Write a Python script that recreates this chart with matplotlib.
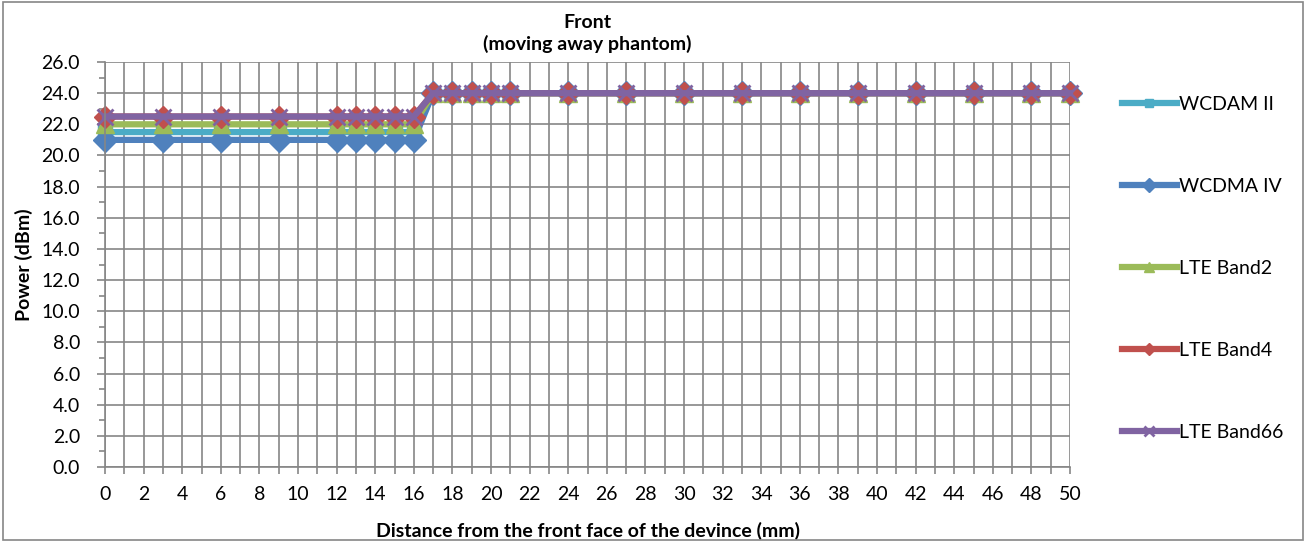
import matplotlib
matplotlib.use("Agg")
import matplotlib.pyplot as plt
from matplotlib.patches import Rectangle

plt.rcParams['font.family'] = ['Lato', 'DejaVu Sans']

# distances (mm)
dist = [0, 3, 6, 9, 12, 13, 14, 15, 16, 17, 18, 19, 20, 21, 24, 27, 30, 33, 36, 39, 42, 45, 48, 50]
n_low = 9  # points before the step (0..16)
n_high = len(dist) - n_low

wcdam2 = [21.5] * n_low + [24.0] * n_high
wcdma4 = [21.0] * n_low + [24.0] * n_high
lte_b2 = [22.0] * n_low + [24.0] * n_high
lte_b4 = [22.5] * n_low + [24.0] * n_high
lte_b66 = [22.5] * n_low + [24.0] * n_high

series = [
    ("WCDAM II", wcdam2, "#4BACC6", "s", 10),
    ("WCDMA IV", wcdma4, "#4F81BD", "D", 12),
    ("LTE Band2", lte_b2, "#9BBB59", "^", 13),
    ("LTE Band4", lte_b4, "#C0504D", "D", 11),
    ("LTE Band66", lte_b66, "#8064A2", "x", 11),
]

FS = 14

fig = plt.figure(figsize=(13.06, 5.42), dpi=100)
ax = fig.add_axes([105/1306, 1 - 467/542, 965/1306, 405/542])

handles = []
for name, vals, col, mk, ms in series:
    h, = ax.plot(dist, vals, color=col, lw=4.5, marker=mk, ms=ms,
                 markeredgewidth=2 if mk == 'x' else 1, mec=col, mfc=col,
                 label=name, solid_joinstyle='round', clip_on=False)
    handles.append(h)

ax.set_xlim(0, 50)
ax.set_ylim(0, 26)
ax.set_xticks(range(0, 51, 2))
ax.set_xticks(range(0, 51, 1), minor=True)
ax.set_yticks([i * 2 for i in range(14)])
ax.set_yticklabels([f"{i*2:.1f}" for i in range(14)])
ax.set_yticks(range(1, 26, 2), minor=True)

ax.grid(True, which='major', axis='y', color='#868686', lw=1.2)
ax.grid(True, which='minor', axis='x', color='#868686', lw=1.2)
ax.grid(True, which='major', axis='x', color='#868686', lw=1.2)
ax.set_axisbelow(True)

for s in ['top', 'right']:
    ax.spines[s].set_visible(False)
for s in ['left', 'bottom']:
    ax.spines[s].set_color('#868686')
    ax.spines[s].set_linewidth(1.2)

ax.tick_params(axis='both', which='both', color='#868686', width=1.2, labelsize=FS, labelcolor='black')
ax.tick_params(axis='y', which='major', length=6, direction='out', pad=12)
ax.tick_params(axis='y', which='minor', length=4, direction='out')
ax.tick_params(axis='x', which='both', length=5, direction='out', pad=9)

ax.set_xlabel("Distance from the front face of the devince (mm)", fontsize=FS, fontweight='bold', labelpad=13)
ax.set_ylabel("Power (dBm)", fontsize=FS, fontweight='bold', labelpad=6)
ax.set_title("Front\n(moving away phantom)", fontsize=FS, fontweight='bold', pad=9, linespacing=1.2)

fig.legend(handles=handles, loc='upper left', bbox_to_anchor=(1104/1306, 1 - 78/542),
           frameon=False, fontsize=FS, labelspacing=3.35, handlelength=2.85,
           handletextpad=0.1, markerscale=0.6)

fig.patches.append(Rectangle((0.002, 0.003), 0.996, 0.994, transform=fig.transFigure,
                             fill=False, edgecolor='#868686', lw=1.2))

fig.savefig("out.png", dpi=100)
